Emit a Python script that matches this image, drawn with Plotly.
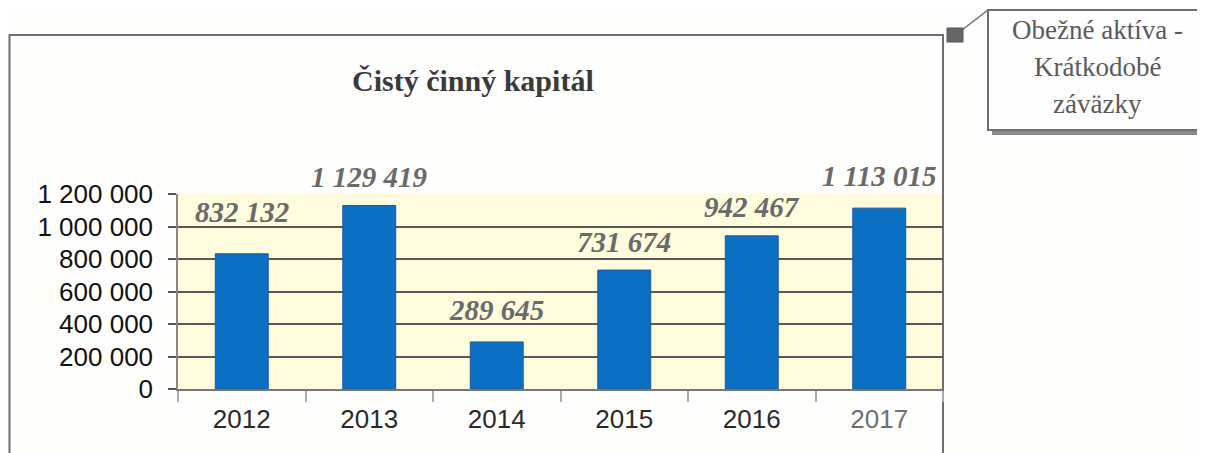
import plotly.graph_objects as go

years = ["2012", "2013", "2014", "2015", "2016", "2017"]
values = [832132, 1129419, 289645, 731674, 942467, 1113015]
value_labels = ["832 132", "1 129 419", "289 645", "731 674", "942 467", "1 113 015"]
y_ticks = [0, 200000, 400000, 600000, 800000, 1000000, 1200000]
y_tick_labels = ["0", "200 000", "400 000", "600 000", "800 000", "1 000 000", "1 200 000"]
title_text = "Čistý činný kapitál"
callout_lines = ["Obežné aktíva -", "Krátkodobé", "záväzky"]

# style / layout constants (page pixel coordinates; page body has 8px margin)
OFF = 8
W, H = 1205 - OFF, 453 - OFF
L, R, T, B = 178, 943, 194, 389
label_offsets = [42, 28, 32, 28, 29, 32]


def px(x):
    return (x - L) / (R - L)


def py(y):
    return (B - y) / (B - T)


fig = go.Figure()
fig.add_trace(go.Bar(
    x=years, y=values,
    marker=dict(color="#0B70C3", line=dict(color="#1A5A9A", width=1)),
    hoverinfo="skip",
))

annotations = []
for i, (v, lab, off) in enumerate(zip(values, value_labels, label_offsets)):
    annotations.append(dict(
        x=i, y=v, xref="x", yref="y", text=f"<b><i>{lab}</i></b>",
        showarrow=False, yanchor="middle", yshift=off,
        font=dict(family="Liberation Serif", size=29, color="#6a6a6a"),
    ))

annotations.append(dict(
    x=px(473), y=py(80), xref="paper", yref="paper",
    text=f"<b>{title_text}</b>", showarrow=False,
    xanchor="center", yanchor="middle",
    font=dict(family="Liberation Serif", size=30, color="#3a3a3a"),
))

for i, line in enumerate(callout_lines):
    annotations.append(dict(
        x=px(1097), y=py(30 + 37 * i), xref="paper", yref="paper",
        text=line, showarrow=False, xanchor="center", yanchor="middle",
        font=dict(family="Liberation Serif", size=27, color="#5a5a5a"),
    ))

shapes = [
    # outer chart frame
    dict(type="rect", xref="paper", yref="paper",
         x0=px(9.5), x1=px(943), y0=py(470), y1=py(35),
         line=dict(color="#6e6e6e", width=2), layer="below"),
    # callout shadow
    dict(type="rect", xref="paper", yref="paper",
         x0=px(992), x1=px(1210), y0=py(135), y1=py(14),
         line=dict(width=0), fillcolor="#8a8a8a", layer="above"),
    # callout box
    dict(type="rect", xref="paper", yref="paper",
         x0=px(988), x1=px(1206), y0=py(130), y1=py(10),
         line=dict(color="#6e6e6e", width=2), fillcolor="#fefefe", layer="above"),
    # callout connector line
    dict(type="line", xref="paper", yref="paper",
         x0=px(962), x1=px(988), y0=py(30), y1=py(10),
         line=dict(color="#6e6e6e", width=1.5)),
    # small marker square
    dict(type="rect", xref="paper", yref="paper",
         x0=px(947), x1=px(963), y0=py(42), y1=py(28),
         line=dict(color="#555555", width=1), fillcolor="#666666"),
]

fig.update_layout(
    width=W, height=H,
    margin=dict(l=L - OFF, r=W - (R - OFF), t=T - OFF, b=H - (B - OFF), autoexpand=False),
    paper_bgcolor="#fefefc",
    plot_bgcolor="#FEFCDC",
    showlegend=False,
    bargap=0.585,
    annotations=annotations,
    shapes=shapes,
    xaxis=dict(
        type="category",
        range=[-0.5, len(years) - 0.5],
        tickmode="array", tickvals=years,
        ticktext=years[:-1] + [f"<span style='color:#707070'>{years[-1]}</span>"],
        tickson="boundaries", ticks="outside", ticklen=11, tickcolor="#aaaaaa", tickwidth=1.5,
        tickangle=0,
        ticklabelstandoff=6,
        showline=True, linecolor="#777777", linewidth=1.5,
        showgrid=False,
        tickfont=dict(family="Liberation Sans", size=26, color="#2a2a2a"),
        fixedrange=True,
    ),
    yaxis=dict(
        range=[0, 1200000],
        tickmode="array", tickvals=y_ticks, ticktext=y_tick_labels,
        ticks="outside", ticklen=8, tickcolor="#555555", tickwidth=1.5,
        showline=True, linecolor="#888888", linewidth=1.5,
        showgrid=True, gridcolor="#585858", gridwidth=1.5,
        zeroline=False,
        ticklabelstandoff=10,
        tickfont=dict(family="Liberation Sans", size=26, color="#111111"),
        fixedrange=True,
    ),
)

fig.write_html("out.html")
